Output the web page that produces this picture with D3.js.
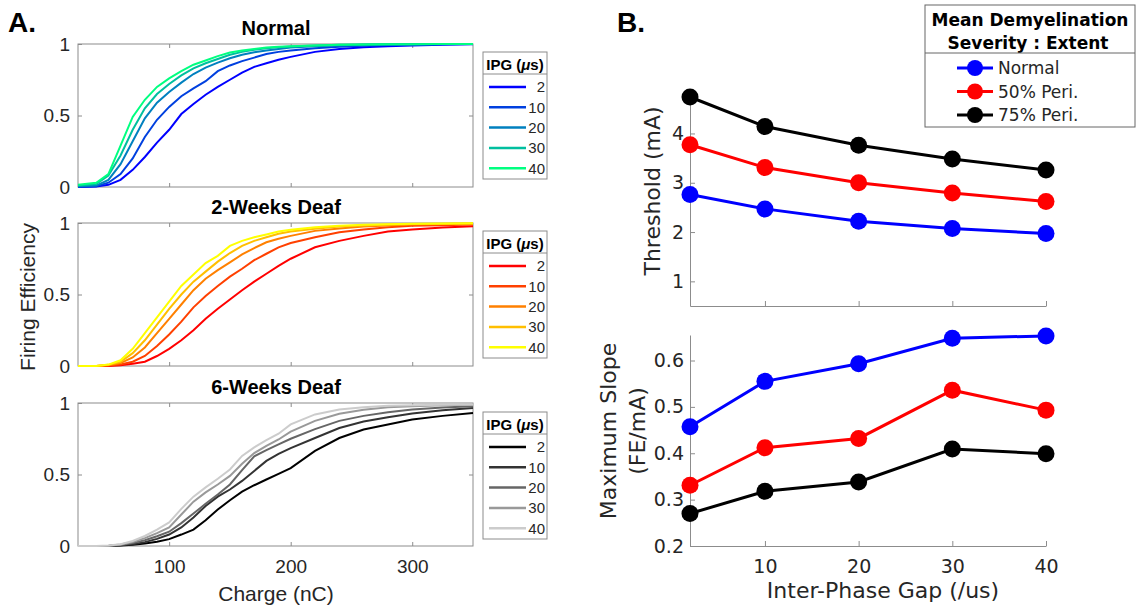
<!DOCTYPE html>
<html>
<head>
<meta charset="utf-8">
<script src="https://d3js.org/d3.v7.min.js"></script>
<style>
body { margin: 0; background: #fff; }
svg { display: block; }
</style>
</head>
<body>
<svg id="fig" width="1138" height="609"></svg>
<script>
// ---- données panneau A : efficacité de décharge en fonction de la charge ----
var chargeNC = [25, 40, 50, 60, 70, 80, 90, 100, 110, 120, 130, 140, 150, 160, 170, 180, 190, 200, 220, 240, 260, 280, 300, 325, 350];
var ipgLabels = ["2", "10", "20", "30", "40"];

// une ligne par IPG (2, 10, 20, 30, 40 us)
var feNormal = [
	[0, 0.003, 0.015, 0.05, 0.12, 0.21, 0.31, 0.40, 0.51, 0.58, 0.645, 0.70, 0.75, 0.80, 0.84, 0.865, 0.89, 0.91, 0.945, 0.965, 0.978, 0.985, 0.99, 0.995, 0.998],
	[0, 0.005, 0.03, 0.09, 0.20, 0.35, 0.47, 0.56, 0.635, 0.69, 0.74, 0.81, 0.85, 0.88, 0.905, 0.93, 0.945, 0.955, 0.97, 0.98, 0.988, 0.993, 0.997, 0.999, 1.0],
	[0.005, 0.01, 0.05, 0.16, 0.32, 0.48, 0.59, 0.665, 0.73, 0.79, 0.835, 0.87, 0.90, 0.925, 0.942, 0.955, 0.965, 0.975, 0.985, 0.99, 0.995, 0.997, 0.999, 1.0, 1.0],
	[0.01, 0.02, 0.08, 0.22, 0.40, 0.55, 0.65, 0.72, 0.78, 0.83, 0.865, 0.895, 0.925, 0.945, 0.96, 0.97, 0.977, 0.983, 0.99, 0.994, 0.997, 0.998, 0.999, 1.0, 1.0],
	[0.015, 0.03, 0.09, 0.29, 0.49, 0.61, 0.70, 0.76, 0.81, 0.855, 0.885, 0.915, 0.94, 0.955, 0.965, 0.975, 0.98, 0.985, 0.99, 0.995, 0.997, 0.998, 0.999, 1.0, 1.0]
];
var feDeaf2w = [
	[0, 0, 0, 0.005, 0.015, 0.03, 0.07, 0.12, 0.18, 0.25, 0.33, 0.40, 0.465, 0.53, 0.59, 0.645, 0.70, 0.75, 0.83, 0.875, 0.91, 0.94, 0.955, 0.968, 0.977],
	[0, 0, 0.003, 0.01, 0.03, 0.07, 0.14, 0.22, 0.31, 0.41, 0.49, 0.56, 0.625, 0.68, 0.74, 0.785, 0.83, 0.86, 0.90, 0.935, 0.955, 0.97, 0.98, 0.985, 0.99],
	[0, 0, 0.005, 0.02, 0.06, 0.13, 0.23, 0.33, 0.43, 0.53, 0.61, 0.67, 0.725, 0.78, 0.825, 0.865, 0.89, 0.91, 0.945, 0.962, 0.975, 0.983, 0.99, 0.993, 0.995],
	[0, 0, 0.008, 0.03, 0.09, 0.18, 0.29, 0.40, 0.50, 0.59, 0.66, 0.73, 0.79, 0.84, 0.875, 0.90, 0.925, 0.94, 0.96, 0.975, 0.983, 0.99, 0.993, 0.995, 0.997],
	[0, 0, 0.01, 0.04, 0.12, 0.23, 0.34, 0.45, 0.56, 0.64, 0.72, 0.77, 0.84, 0.875, 0.90, 0.92, 0.94, 0.953, 0.97, 0.98, 0.988, 0.992, 0.995, 0.997, 0.998]
];
var feDeaf6w = [
	[0, 0, 0, 0.003, 0.008, 0.017, 0.03, 0.048, 0.08, 0.115, 0.18, 0.255, 0.32, 0.38, 0.425, 0.465, 0.505, 0.545, 0.665, 0.755, 0.815, 0.85, 0.885, 0.91, 0.93],
	[0, 0, 0, 0.005, 0.013, 0.027, 0.05, 0.08, 0.13, 0.20, 0.28, 0.345, 0.395, 0.455, 0.525, 0.595, 0.645, 0.685, 0.755, 0.825, 0.87, 0.90, 0.927, 0.95, 0.965],
	[0, 0, 0, 0.007, 0.02, 0.04, 0.068, 0.10, 0.16, 0.227, 0.295, 0.36, 0.43, 0.53, 0.627, 0.67, 0.71, 0.75, 0.817, 0.875, 0.91, 0.935, 0.955, 0.968, 0.977],
	[0, 0, 0.002, 0.01, 0.028, 0.055, 0.09, 0.13, 0.22, 0.31, 0.375, 0.43, 0.49, 0.575, 0.65, 0.70, 0.745, 0.80, 0.875, 0.925, 0.953, 0.97, 0.978, 0.984, 0.988],
	[0, 0, 0.003, 0.013, 0.035, 0.07, 0.115, 0.165, 0.26, 0.345, 0.41, 0.47, 0.535, 0.63, 0.69, 0.74, 0.785, 0.85, 0.92, 0.955, 0.97, 0.98, 0.985, 0.988, 0.99]
];

// ---- données panneau B : seuil et pente maximale selon l'IPG ----
var ipgGap = [2, 10, 20, 30, 40];
var groupNames = ["Normal", "50% Peri.", "75% Peri."];
var thrNormal = [2.76, 2.47, 2.22, 2.07, 1.97];
var thrPeri50 = [3.77, 3.31, 3.00, 2.79, 2.62];
var thrPeri75 = [4.74, 4.14, 3.76, 3.48, 3.26];
var slopeNormal = [0.457, 0.555, 0.593, 0.648, 0.653];
var slopePeri50 = [0.331, 0.412, 0.432, 0.536, 0.493];
var slopePeri75 = [0.270, 0.318, 0.338, 0.409, 0.399];

// couleurs (colormaps matlab winter / autumn / gray)
var winterColors = ["#0000ff", "#0040df", "#0080bf", "#00bf9f", "#00ff80"];
var autumnColors = ["#ff0000", "#ff4000", "#ff8000", "#ffbf00", "#ffff00"];
var grayColors = ["#000000", "#333333", "#666666", "#999999", "#cccccc"];
var groupColors = ["#0000ff", "#ff0000", "#000000"];

var fontA = "'Liberation Sans', Arial, sans-serif";
var fontB = "'DejaVu Sans', Verdana, sans-serif";
var axisGrey = "#8c8c8c", textGrey = "#262626";

var svg = d3.select("#fig");
svg.append("rect").attr("width", 1138).attr("height", 609).attr("fill", "#fff");

// ================= panneau A =================
var xA = d3.scaleLinear().domain([25, 350]).range([78, 473]);
var hA = 143;
var panelsA = [
	{titre: "Normal", data: feNormal, couleurs: winterColors, top: 44, legTop: 52},
	{titre: "2-Weeks Deaf", data: feDeaf2w, couleurs: autumnColors, top: 223, legTop: 231},
	{titre: "6-Weeks Deaf", data: feDeaf6w, couleurs: grayColors, top: 403, legTop: 412}
];

panelsA.forEach(function(p, k){
	var yA = d3.scaleLinear().domain([0, 1]).range([p.top + hA, p.top]);
	var g = svg.append("g");

	// axes (ticks vers l'intérieur, comme matlab)
	g.append("g").attr("transform", "translate(78,0)")
		.call(d3.axisLeft(yA).tickValues([0, 0.5, 1]).tickFormat(d3.format("~g")).tickSize(-4).tickPadding(8));
	g.append("g").attr("transform", "translate(473,0)")
		.call(d3.axisRight(yA).tickValues([0.5]).tickFormat("").tickSize(-4));
	g.append("g").attr("transform", `translate(0, ${p.top + hA})`)
		.call(d3.axisBottom(xA).tickValues([100, 200, 300]).tickSize(-4).tickPadding(14)
			.tickFormat(k == 2 ? d3.format("d") : ""));
	g.append("g").attr("transform", `translate(0, ${p.top})`)
		.call(d3.axisTop(xA).tickValues([100, 200, 300]).tickFormat("").tickSize(-4));
	g.selectAll(".domain").remove();
	g.selectAll(".tick line").attr("stroke", axisGrey);
	g.selectAll(".tick text").attr("fill", textGrey).style("font-family", fontA).style("font-size", "19px");

	// cadre
	g.append("rect").attr("x", 78).attr("y", p.top).attr("width", 395).attr("height", hA)
		.attr("fill", "none").attr("stroke", axisGrey);

	// courbes
	var line = d3.line()
		.x(function(d, i){ return xA(chargeNC[i]); })
		.y(function(d){ return yA(d); });
	g.selectAll("path.curve")
		.data(p.data)
		.enter()
		.append("path")
		.attr("class", "curve")
		.attr("d", line)
		.attr("fill", "none")
		.attr("stroke", function(d, i){ return p.couleurs[i]; })
		.attr("stroke-width", 2);

	// titre
	g.append("text").attr("x", 276).attr("y", p.top - 9)
		.attr("text-anchor", "middle").style("font-family", fontA).style("font-weight", "bold")
		.style("font-size", "20px").attr("fill", "#000").text(p.titre);

	// légende IPG
	var leg = g.append("g").attr("transform", `translate(483, ${p.legTop})`);
	leg.append("rect").attr("width", 64).attr("height", 127).attr("fill", "#fff").attr("stroke", axisGrey);
	var head = leg.append("text").attr("x", 32).attr("y", 18).attr("text-anchor", "middle")
		.style("font-family", fontA).style("font-weight", "bold").style("font-size", "15px").attr("fill", "#000");
	head.append("tspan").text("IPG (");
	head.append("tspan").style("font-style", "italic").text("μ");
	head.append("tspan").text("s)");
	leg.append("line").attr("x1", 0).attr("x2", 64).attr("y1", 22).attr("y2", 22).attr("stroke", axisGrey);
	var items = leg.selectAll("g.item").data(ipgLabels).enter().append("g")
		.attr("class", "item")
		.attr("transform", function(d, i){ return `translate(0, ${35 + i * 20.3})`; });
	items.append("line").attr("x1", 6).attr("x2", 43).attr("stroke-width", 2.5)
		.attr("stroke", function(d, i){ return p.couleurs[i]; });
	items.append("text").attr("x", 62).attr("dy", "0.36em").attr("text-anchor", "end")
		.style("font-family", fontA).style("font-size", "15px").attr("fill", textGrey)
		.text(function(d){ return d; });
});

// libellés panneau A
svg.append("text").attr("transform", "translate(28,297) rotate(-90)")
	.attr("text-anchor", "middle").attr("dy", "0.35em")
	.style("font-family", fontA).style("font-size", "21px").attr("fill", textGrey)
	.text("Firing Efficiency");
svg.append("text").attr("x", 276).attr("y", 601).attr("text-anchor", "middle")
	.style("font-family", fontA).style("font-size", "21px").attr("fill", textGrey)
	.text("Charge (nC)");
svg.append("text").attr("x", 8).attr("y", 32)
	.style("font-family", fontA).style("font-weight", "bold").style("font-size", "28px")
	.text("A.");

// ================= panneau B =================
var xB = d3.scaleLinear().domain([2, 40]).range([690, 1046]);
var yThr = d3.scaleLinear().domain([0.5, 4.76]).range([306, 96]);
var ySlope = d3.scaleLinear().domain([0.2, 0.655]).range([546, 335]);

function drawPanelB(yScale, ticks, series, labelX){
	var g = svg.append("g");
	g.append("g").attr("transform", "translate(690,0)")
		.call(d3.axisLeft(yScale).tickValues(ticks).tickSize(-5).tickSizeOuter(0).tickPadding(6)
			.tickFormat(d3.format("~g")));
	g.append("g").attr("transform", `translate(0, ${yScale.range()[0]})`)
		.call(d3.axisBottom(xB).tickValues([10, 20, 30, 40]).tickSize(-5).tickSizeOuter(0).tickPadding(14)
			.tickFormat(labelX ? d3.format("d") : ""));
	g.selectAll(".domain").attr("stroke", axisGrey);
	g.selectAll(".tick line").attr("stroke", axisGrey);
	g.selectAll(".tick text").attr("fill", textGrey).style("font-family", fontB).style("font-size", "19px");

	var line = d3.line()
		.x(function(d, i){ return xB(ipgGap[i]); })
		.y(function(d){ return yScale(d); });
	series.forEach(function(s, j){
		g.append("path").attr("d", line(s)).attr("fill", "none")
			.attr("stroke", groupColors[j]).attr("stroke-width", 3);
		g.selectAll("circle.g" + j).data(s).enter().append("circle")
			.attr("class", "g" + j)
			.attr("cx", function(d, i){ return xB(ipgGap[i]); })
			.attr("cy", function(d){ return yScale(d); })
			.attr("r", 8.5)
			.attr("fill", groupColors[j]);
	});
}
drawPanelB(yThr, [1, 2, 3, 4], [thrNormal, thrPeri50, thrPeri75], false);
drawPanelB(ySlope, [0.2, 0.3, 0.4, 0.5, 0.6], [slopeNormal, slopePeri50, slopePeri75], true);

// libellés panneau B
svg.append("text").attr("transform", "translate(652,191) rotate(-90)")
	.attr("text-anchor", "middle").attr("dy", "0.35em")
	.style("font-family", fontB).style("font-size", "22px").attr("fill", textGrey)
	.text("Threshold (mA)");
svg.append("text").attr("transform", "translate(608,431) rotate(-90)")
	.attr("text-anchor", "middle").attr("dy", "0.35em")
	.style("font-family", fontB).style("font-size", "22px").attr("fill", textGrey)
	.text("Maximum Slope");
svg.append("text").attr("transform", "translate(637,431) rotate(-90)")
	.attr("text-anchor", "middle").attr("dy", "0.35em")
	.style("font-family", fontB).style("font-size", "22px").attr("fill", textGrey)
	.text("(FE/mA)");
svg.append("text").attr("x", 883).attr("y", 598).attr("text-anchor", "middle")
	.style("font-family", fontB).style("font-size", "22px").attr("fill", textGrey)
	.text("Inter-Phase Gap (/us)");
svg.append("text").attr("x", 617).attr("y", 32)
	.style("font-family", fontA).style("font-weight", "bold").style("font-size", "28px")
	.text("B.");

// légende panneau B
var legB = svg.append("g").attr("transform", "translate(925,5)");
legB.append("rect").attr("width", 210).attr("height", 122).attr("fill", "#fff").attr("stroke", "#666");
legB.append("text").attr("x", 105).attr("y", 21).attr("text-anchor", "middle")
	.style("font-family", fontB).style("font-weight", "bold").style("font-size", "17px")
	.text("Mean Demyelination");
legB.append("text").attr("x", 103).attr("y", 44).attr("text-anchor", "middle")
	.style("font-family", fontB).style("font-weight", "bold").style("font-size", "17px")
	.text("Severity : Extent");
legB.append("line").attr("x1", 0).attr("x2", 210).attr("y1", 48).attr("y2", 48).attr("stroke", "#666");
var itemsB = legB.selectAll("g.item").data(groupNames).enter().append("g")
	.attr("class", "item")
	.attr("transform", function(d, i){ return `translate(0, ${63 + i * 23.5})`; });
itemsB.append("line").attr("x1", 32).attr("x2", 68).attr("stroke-width", 3)
	.attr("stroke", function(d, i){ return groupColors[i]; });
itemsB.append("circle").attr("cx", 50).attr("r", 8)
	.attr("fill", function(d, i){ return groupColors[i]; });
itemsB.append("text").attr("x", 73).attr("dy", "0.36em")
	.style("font-family", fontB).style("font-size", "17px").attr("fill", textGrey)
	.text(function(d){ return d; });
</script>
</body>
</html>
